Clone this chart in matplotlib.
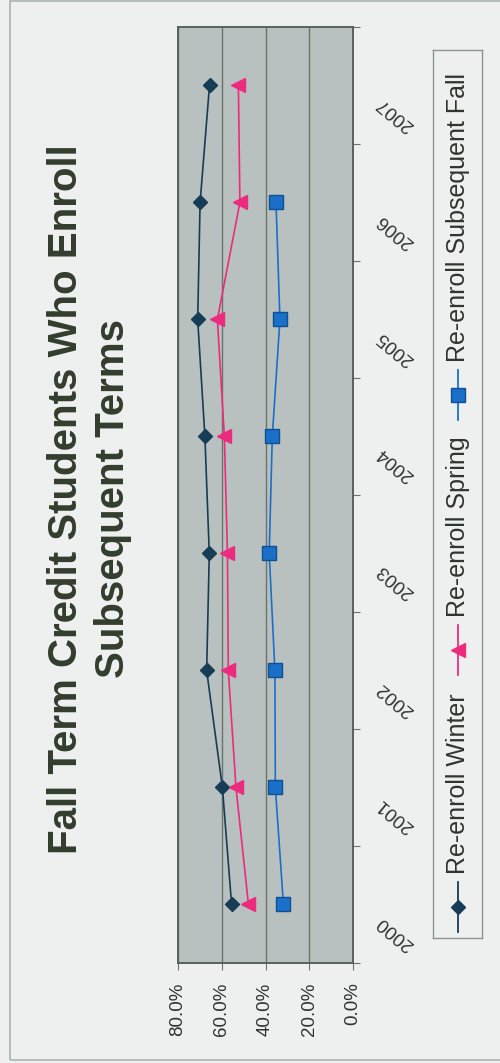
# Fall term credit students who enroll subsequent terms (chart turned on its side)

import numpy as np
import matplotlib.pyplot as plt
import matplotlib.transforms as mtransforms
from matplotlib.patches import Rectangle

plt.rcParams['font.family'] = ['Liberation Sans', 'DejaVu Sans']

years = [2000, 2001, 2002, 2003, 2004, 2005, 2006, 2007]
winter = [55.5, 59.7, 66.9, 65.7, 67.7, 71.0, 69.9, 65.6]
spring = [47.8, 53.5, 57.0, 57.4, 58.8, 62.0, 51.7, 52.4]
fall = [31.8, 35.5, 35.7, 38.3, 36.9, 33.4, 35.2, np.nan]
pct_ticks = [80, 60, 40, 20, 0]

series = [
    ('Re-enroll Winter', winter, '#163c56', 'D', 7.5, '#163c56'),
    ('Re-enroll Spring', spring, '#ec2b7e', '<', 10.5, '#ec2b7e'),
    ('Re-enroll Subsequent Fall', fall, '#1a70c8', 's', 9.5, '#0f4f93'),
]

bg = '#eef0f0'
txt = '#2e3430'

fig = plt.figure(figsize=(5, 10.63), dpi=100)
fig.patch.set_facecolor(bg)
fig.patches.append(Rectangle((10/500, 3/1063), 1, 1 - 4/1063, transform=fig.transFigure,
                             fill=False, edgecolor='#a8b4ad', lw=1.2))

ax = fig.add_axes([0.356, 0.0941, 0.35, 0.8805])
ax.set_facecolor('#b8c1bf')
pos = np.arange(len(years))
for name, vals, col, mk, ms, ec in series:
    ax.plot(vals, pos, color=col, lw=1.2, marker=mk, ms=ms, mfc=col, mec=ec, label=name)

ax.set_xlim(80, 0)
ax.set_ylim(-0.5, len(years) - 0.5)
ax.set_xticks(pct_ticks)
ax.set_xticklabels(['%.1f%%' % v for v in pct_ticks], rotation=90, fontsize=13.5, color=txt)
ax.xaxis.grid(True, color='#687369', lw=1)
ax.set_axisbelow(True)
ax.tick_params(axis='x', direction='out', length=5, color='#687369', pad=9)

ax.yaxis.tick_right()
ax.set_yticks(np.arange(-0.5, len(years), 1))
ax.set_yticklabels([])
ax.tick_params(axis='y', direction='out', length=5, color='#687369')
for s in ax.spines.values():
    s.set_color('#56625a')
    s.set_linewidth(1.4)

trans = mtransforms.blended_transform_factory(ax.transAxes, ax.transData)
for i, y in enumerate(years):
    ax.text(1.146, i - 0.124, str(y), transform=trans, rotation=140, rotation_mode='anchor',
            ha='right', va='center', fontsize=13.5, color=txt)

fig.text(0.180, 0.5306, 'Fall Term Credit Students Who Enroll\nSubsequent Terms',
         rotation=90, ha='center', va='center', multialignment='center',
         fontsize=29, fontweight='bold', color='#333d2e', linespacing=1.3)

# legend drawn by hand, since the entries run vertically
lax = fig.add_axes([433/500, 1 - 938/1063, 49/500, 888/1063])
lax.set_xlim(0, 49)
lax.set_ylim(0, 888)
lax.set_facecolor(bg)
lax.set_xticks([])
lax.set_yticks([])
for s in lax.spines.values():
    s.set_color('#8a9590')
    s.set_linewidth(1)
starts = [31, 288, 543]
for (name, vals, col, mk, ms, ec), y0 in zip(series, starts):
    lax.plot([25, 25], [y0 - 25, y0 + 25], color=col, lw=1.3)
    lax.plot([25], [y0], color=col, marker=mk, ms=ms, mfc=col, mec=ec)
    lax.text(25, y0 + 33, name, rotation=90, ha='center', va='bottom', fontsize=18, color=txt)

fig.savefig('out.png', dpi=100, facecolor=bg)
